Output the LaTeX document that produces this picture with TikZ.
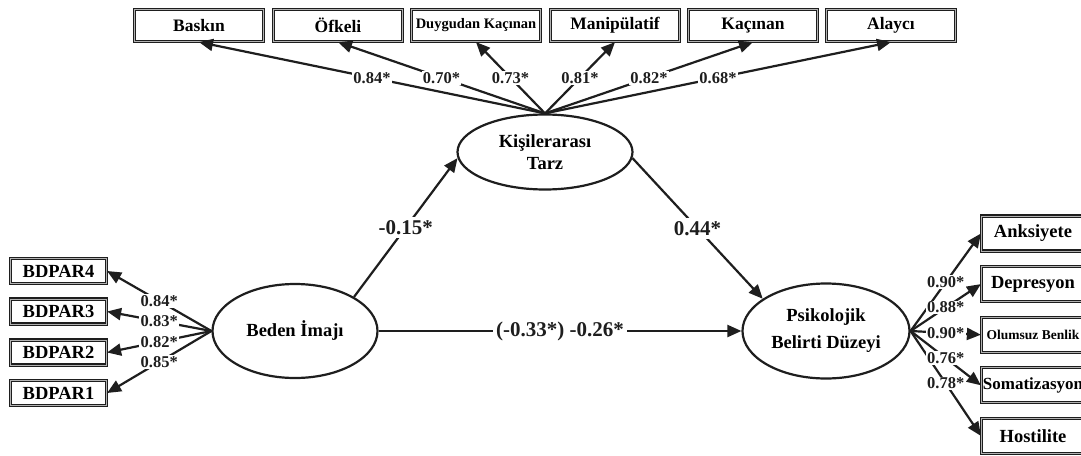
\documentclass[tikz,border=0pt]{standalone}
\usepackage{fontspec}
\setmainfont{Liberation Serif}
\usepackage{tikz}
\usetikzlibrary{arrows.meta,shapes.geometric}
\definecolor{ink}{RGB}{30,30,30}

\tikzset{
  latent/.style={ellipse,draw=ink,line width=2.2pt,inner sep=0pt,align=center,
    font=\bfseries\fontsize{18.5}{22}\selectfont},
  indbox/.style={rectangle,draw=ink,double=gray!60,double distance=0.8pt,line width=1.2pt,
    inner sep=0pt,font=\bfseries\fontsize{17.5}{20}\selectfont},
  topbox/.style={indbox,minimum width=129pt,minimum height=32pt},
  leftbox/.style={indbox,minimum width=96pt,minimum height=25pt,font=\bfseries\fontsize{18.5}{20}\selectfont},
  rightbox/.style={indbox,minimum width=103pt,minimum height=35pt,font=\bfseries\fontsize{18.5}{20}\selectfont},
  coef/.style={fill=white,inner sep=1.2pt,text=ink,font=\bfseries\fontsize{16.5}{18}\selectfont},
  bigcoef/.style={fill=white,inner sep=3pt,text=ink,font=\bfseries\fontsize{21}{24}\selectfont},
  load/.style={draw=ink,line width=2.2pt,-{Triangle[length=14pt,width=12pt]}}
}

\begin{document}
\begin{tikzpicture}[x=1pt,y=-1pt]
    \fill[white] (0,0) rectangle (1081,455);
    \useasboundingbox (0,0) rectangle (1081,455);
    \clip (0,0) rectangle (1081,455);

    % latent variables
    \node[latent,minimum width=175pt,minimum height=75pt] (kt) at (545,152) {Kişilerarası\\Tarz};
    \node[latent,minimum width=165pt,minimum height=94pt] (bi) at (295,331) {Beden İmajı};
    \node[latent,minimum width=167pt,minimum height=95pt,font=\bfseries\fontsize{18.5}{27}\selectfont] (pb) at (826,331) {Psikolojik\\Belirti Düzeyi};

    % indicators of Kişilerarası Tarz
    \node[topbox] (bsk) at (199,25.5) {Baskın};
    \node[topbox] (ofk) at (338,25.5) {Öfkeli};
    \node[topbox,font=\bfseries\fontsize{14.5}{16}\selectfont] (dyk) at (476,25.5) {Duygudan Kaçınan};
    \node[topbox] (mnp) at (615,25.5) {Manipülatif};
    \node[topbox] (kcn) at (753,25.5) {Kaçınan};
    \node[topbox] (aly) at (891,25.5) {Alaycı};

    % indicators of Beden İmajı
    \node[leftbox] (bd4) at (58.5,271) {BDPAR4};
    \node[leftbox] (bd3) at (58.5,311.5) {BDPAR3};
    \node[leftbox] (bd2) at (58.5,352.5) {BDPAR2};
    \node[leftbox] (bd1) at (58.5,393) {BDPAR1};

    % indicators of Psikolojik Belirti Düzeyi
    \node[rightbox] (anx) at (1033,233.5) {Anksiyete};
    \node[rightbox] (dep) at (1033,284.1) {Depresyon};
    \node[rightbox,font=\bfseries\fontsize{13.5}{16}\selectfont] (olb) at (1033,334.7) {Olumsuz Benlik};
    \node[rightbox,font=\bfseries\fontsize{17}{20}\selectfont] (som) at (1033,385.3) {Somatizasyon};
    \node[rightbox] (hst) at (1033,435.9) {Hostilite};

    % loadings
    \draw[load] (kt.north) -- (bsk.south);
    \draw[load] (kt.north) -- (ofk.south);
    \draw[load] (kt.north) -- (dyk.south);
    \draw[load] (kt.north) -- (mnp.south);
    \draw[load] (kt.north) -- (kcn.south);
    \draw[load] (kt.north) -- (aly.south);
    \draw[load] (bi.west) -- (bd4.east);
    \draw[load] (bi.west) -- (bd3.east);
    \draw[load] (bi.west) -- (bd2.east);
    \draw[load] (bi.west) -- (bd1.east);
    \draw[load] (pb.east) -- (anx.west);
    \draw[load] (pb.east) -- (dep.west);
    \draw[load] (pb.east) -- (olb.west);
    \draw[load] (pb.east) -- (som.west);
    \draw[load] (pb.east) -- (hst.west);

    \path (kt.north) -- (bsk.south) node[coef,pos=0.5] {0.84*};
    \path (kt.north) -- (ofk.south) node[coef,pos=0.5] {0.70*};
    \path (kt.north) -- (dyk.south) node[coef,pos=0.5] {0.73*};
    \path (kt.north) -- (mnp.south) node[coef,pos=0.5] {0.81*};
    \path (kt.north) -- (kcn.south) node[coef,pos=0.5] {0.82*};
    \path (kt.north) -- (aly.south) node[coef,pos=0.5] {0.68*};
    \path (bi.west) -- (bd4.east) node[coef,pos=0.5] {0.84*};
    \path (bi.west) -- (bd3.east) node[coef,pos=0.5] {0.83*};
    \path (bi.west) -- (bd2.east) node[coef,pos=0.5] {0.82*};
    \path (bi.west) -- (bd1.east) node[coef,pos=0.5] {0.85*};
    \path (pb.east) -- (anx.west) node[coef,pos=0.5] {0.90*};
    \path (pb.east) -- (dep.west) node[coef,pos=0.5] {0.88*};
    \path (pb.east) -- (olb.west) node[coef,pos=0.5] {0.90*};
    \path (pb.east) -- (som.west) node[coef,pos=0.5] {0.76*};
    \path (pb.east) -- (hst.west) node[coef,pos=0.5] {0.78*};

    % structural paths
    \draw[load] (bi.30) -- node[bigcoef] {-0.15*} (kt.184);
    \draw[load] (kt.-4) -- node[bigcoef] {0.44*} (pb.153);
    \draw[load] (bi.east) -- node[bigcoef] {(-0.33*) -0.26*} (pb.west);
\end{tikzpicture}
\end{document}
